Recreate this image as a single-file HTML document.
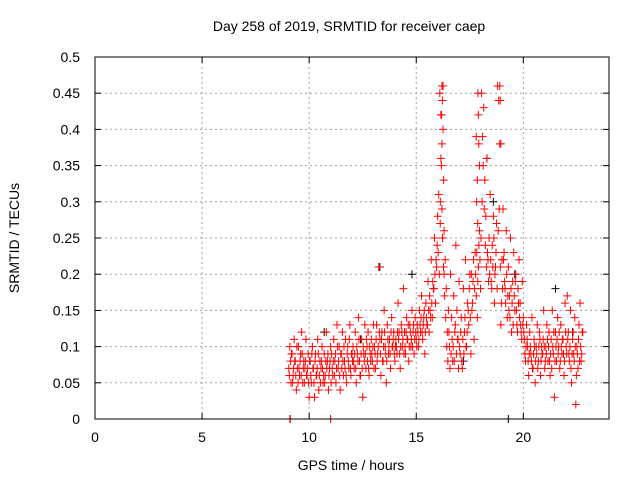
<!DOCTYPE html>
<html><head><meta charset="utf-8"><style>
body{margin:0;background:#fff}
svg{display:block;font-family:"Liberation Sans",sans-serif}
</style></head><body>
<svg id="chart" width="640" height="480" viewBox="0 0 640 480">
<rect width="640" height="480" fill="#fff"/>
<text x="349" y="31" font-size="14" text-anchor="middle">Day 258 of 2019, SRMTID for receiver caep</text>
<text x="351" y="470" font-size="14" text-anchor="middle">GPS time / hours</text>
<text transform="translate(19,238) rotate(-90)" font-size="14" text-anchor="middle">SRMTID / TECUs</text>
<g id="grid"></g><g id="ticks"></g><g id="marks"></g>
<rect x="95" y="57" width="514" height="362" fill="none" stroke="#000" stroke-width="1"/>
</svg>
<script>
const xTicks=[0,5,10,15,20];
const yTicks=[0,0.05,0.1,0.15,0.2,0.25,0.3,0.35,0.4,0.45,0.5];
const yTickLabels=["0","0.05","0.1","0.15","0.2","0.25","0.3","0.35","0.4","0.45","0.5"];
const redValues=[
0.07,0.10,0.05,0.09,0.06,0.11,0.08,0.04,0.07,0.10,0.06,0.09,0.12,0.05,0.08,0.07,0.11,0.06,0.09,0.03,
0.08,0.05,0.10,0.07,0.03,0.09,0.06,0.11,0.04,0.08,0.07,0.10,0.05,0.09,0.06,0.12,0.08,0.04,0.07,0.10,
0.09,0.06,0.11,0.08,0.05,0.13,0.07,0.10,0.04,0.09,0.12,0.06,0.08,0.11,0.05,0.10,0.07,0.13,0.06,0.09,
0.10,0.07,0.12,0.05,0.09,0.14,0.08,0.06,0.11,0.03,0.09,0.13,0.07,0.10,0.12,0.06,0.09,0.11,0.08,0.13,
0.10,0.07,0.13,0.09,0.21,0.11,0.06,0.12,0.08,0.15,0.10,0.05,0.13,0.09,0.11,0.07,0.14,0.10,0.12,0.08,
0.11,0.09,0.16,0.12,0.07,0.13,0.10,0.18,0.12,0.09,0.14,0.11,0.08,0.13,0.10,0.15,0.12,0.09,0.14,0.11,
0.13,0.10,0.15,0.12,0.17,0.11,0.14,0.09,0.16,0.13,0.19,0.12,0.15,0.22,0.14,0.18,0.25,0.16,0.21,0.28,
0.31,0.45,0.42,0.38,0.46,0.26,0.22,0.18,0.12,0.15,0.10,0.20,0.14,0.08,0.17,0.12,0.24,0.15,0.11,0.19,
0.09,0.14,0.07,0.18,0.12,0.22,0.10,0.16,0.13,0.20,0.09,0.15,0.19,0.11,0.23,0.17,0.14,0.21,0.26,0.18,
0.45,0.39,0.43,0.33,0.28,0.36,0.22,0.25,0.31,0.19,0.24,0.28,0.16,0.21,0.27,0.46,0.44,0.38,0.13,0.22,
0.29,0.23,0.18,0.26,0.14,0.21,0.17,0.25,0.12,0.19,0.23,0.15,0.20,0.13,0.18,0.22,0.16,0.12,0.19,0.14,
0.11,0.08,0.13,0.10,0.06,0.12,0.09,0.14,0.07,0.11,0.05,0.10,0.13,0.08,0.12,0.06,0.10,0.09,0.15,0.07,
0.10,0.13,0.08,0.12,0.06,0.11,0.15,0.09,0.03,0.12,0.08,0.14,0.10,0.07,0.13,0.09,0.11,0.06,0.16,0.10,
0.17,0.12,0.08,0.15,0.05,0.11,0.09,0.14,0.02,0.10,0.07,0.13,0.16,0.08,0.12,
0.36,0.42,0.46,0.44,0.40,0.33,0.29,0.25,0.27,0.20,
0.39,0.33,0.45,0.42,0.38,0.35,0.30,0.27,
0.46,0.44,0.38,0,0,0];
const redValues2=[
0.06,0.08,0.09,0.05,0.07,0.08,0.06,0.10,0.05,0.07,0.08,0.06,0.09,0.07,0.05,0.08,0.06,0.07,0.05,0.08,
0.06,0.09,0.07,0.05,0.08,0.06,0.07,0.09,0.06,0.05,0.08,0.07,0.06,0.05,0.08,0.07,0.09,0.06,0.08,0.05,
0.07,0.08,0.06,0.09,0.07,0.10,0.08,0.06,0.09,0.07,0.08,0.10,0.07,0.06,0.09,0.08,0.11,0.07,0.09,0.08,
0.08,0.09,0.07,0.10,0.08,0.11,0.06,0.09,0.07,0.10,0.08,0.09,0.11,0.08,0.07,0.10,0.08,0.09,0.10,0.07,
0.09,0.11,0.08,0.10,0.12,0.09,0.11,0.08,0.10,0.12,0.09,0.08,0.11,0.10,0.09,0.12,0.10,0.11,0.09,0.10,
0.10,0.12,0.11,0.09,0.10,0.12,0.11,0.09,0.10,0.12,0.11,0.13,0.10,0.12,0.11,0.10,0.13,0.11,0.12,0.10,
0.12,0.11,0.13,0.14,0.12,0.13,0.15,0.12,0.14,0.13,0.15,0.17,0.14,0.16,0.19,0.18,0.20,0.22,0.24,0.23,
0.20,0.30,0.35,0.25,0.21,0.17,0.14,0.10,0.08,0.12,0.07,0.09,0.11,0.10,0.08,0.13,0.09,0.11,0.07,0.10,
0.12,0.08,0.11,0.09,0.14,0.10,0.12,0.15,0.18,0.14,0.20,0.16,0.22,0.18,0.20,0.23,0.19,0.24,0.22,0.25,
0.30,0.35,0.29,0.24,0.21,0.23,0.19,0.20,0.22,0.18,0.21,0.25,0.20,0.23,0.18,0.26,0.29,0.21,0.16,0.18,
0.22,0.19,0.16,0.20,0.17,0.15,0.14,0.18,0.16,0.13,0.17,0.19,0.15,0.12,0.16,0.14,0.13,0.11,0.13,0.12,
0.09,0.10,0.11,0.08,0.09,0.10,0.08,0.07,0.09,0.10,0.08,0.09,0.07,0.10,0.11,0.08,0.09,0.11,0.10,0.08,
0.09,0.11,0.10,0.08,0.09,0.07,0.10,0.12,0.08,0.10,0.11,0.09,0.12,0.08,0.10,0.11,0.09,0.08,0.12,0.09,
0.11,0.09,0.10,0.07,0.09,0.12,0.08,0.10,0.06,0.09,0.11,0.08,0.10,0.09,0.12];
const redTimes=[];
for(let h=9;h<22;h++){for(let k=1;k<=20;k++){redTimes.push(h+k*0.05);}}
const extraTimes=[22.05,22.1,22.15,22.2,22.25,22.3,22.35,22.4,22.45,22.5,22.55,22.6,22.65,22.7,22.75,
16.15,16.18,16.2,16.22,16.25,16.28,16.2,16.23,16.12,16.3,
17.8,17.85,17.88,17.9,17.92,17.95,17.82,17.87,
18.9,18.92,18.95,9.1,9.12,11.0];
const allRedTimes=redTimes.concat(extraTimes);
const blackTimes=[13.3,14.8,18.3,18.6,19.6,17.2,21.5,22.3,10.7,12.4,19.3];
const blackValues=[0.21,0.20,0.36,0.30,0.20,0.08,0.18,0.12,0.12,0.11,0];

const X0=95,X1=609,Y0=419,Y1=57;
function sx(t){return X0+(t/24)*(X1-X0);}
function sy(v){return Y0-(v/0.5)*(Y0-Y1);}
const NS="http://www.w3.org/2000/svg";
function mk(tag,attrs,parent){const e=document.createElementNS(NS,tag);for(const k in attrs)e.setAttribute(k,attrs[k]);parent.appendChild(e);return e;}
const grid=document.getElementById('grid'),ticks=document.getElementById('ticks'),marks=document.getElementById('marks');
xTicks.forEach(t=>{
  const x=sx(t);
  if(t>0){const g=mk('line',{x1:x,x2:x,y1:Y0,y2:Y1,stroke:'#a0a0a0','stroke-dasharray':'2,3'},grid);
  
  }
  mk('line',{x1:x,x2:x,y1:Y0,y2:Y0-6,stroke:'#000'},ticks);
  mk('line',{x1:x,x2:x,y1:Y1,y2:Y1+6,stroke:'#000'},ticks);
  const l=mk('text',{x:x,y:Y0+23,'font-size':14,'text-anchor':'middle'},ticks);
  l.textContent=String(t);
  
  
});
yTicks.forEach((v,i)=>{
  const y=sy(v);
  if(i>0&&i<yTicks.length-1){const g=mk('line',{x1:X0,x2:X1,y1:y,y2:y,stroke:'#a0a0a0','stroke-dasharray':'2,3'},grid);
  
  }
  mk('line',{x1:X0,x2:X0+6,y1:y,y2:y,stroke:'#000'},ticks);
  mk('line',{x1:X1,x2:X1-6,y1:y,y2:y,stroke:'#000'},ticks);
  const l=mk('text',{x:X0-15,y:y+5,'font-size':14,'text-anchor':'end'},ticks);
  l.textContent=yTickLabels[i];
  
  
});
function plus(t,v,color,name){
  const x=sx(t),y=sy(v);
  const p=mk('path',{d:`M${x-4},${y}H${x+4}M${x},${y-4}V${y+4}`,stroke:color,'stroke-width':1,fill:'none'},marks);
  
  
}
blackTimes.forEach((t,i)=>plus(t,blackValues[i],'#000','black-point'));
allRedTimes.forEach((t,i)=>{if(i<redValues.length)plus(t,redValues[i],'#f00','red-point');});
redTimes.concat(extraTimes.slice(0,15)).forEach((t,i)=>{if(i<redValues2.length)plus(t+0.025,redValues2[i],'#f00','red-point');});
</script>
</body></html>
